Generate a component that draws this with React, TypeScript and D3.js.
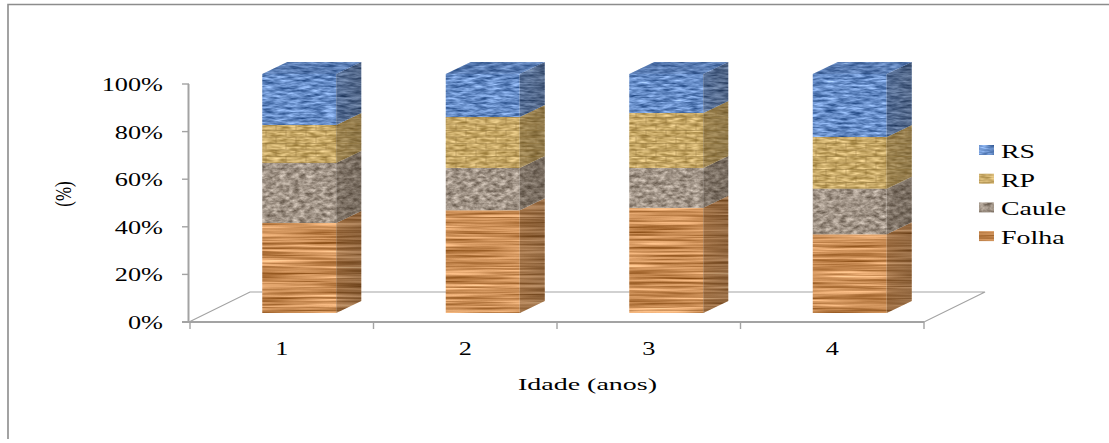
import React from "react";
import * as d3 from "d3";

// Biomass share per compartment (%), stacked from the bottom up
const ages = ["1", "2", "3", "4"];
const folha = [37.7, 43, 44, 33];
const caule = [25.1, 17.7, 16.7, 19];
const rp = [15.9, 21.3, 23, 21.6];
const rs = [21.3, 18, 16.3, 26.4];
const seriesKeys = ["Folha", "Caule", "RP", "RS"];
const yTicks = [0, 20, 40, 60, 80, 100];
const legendOrder = ["RS", "RP", "Caule", "Folha"];

const width = 1109;
const height = 443;
const depthX = 25;
const depthY = 12;
const barWidth = 74;
const serif = "'Liberation Serif', serif";
const axisGray = "#a3a3a3";

const rows = ages.map((age, i) => ({
  age,
  Folha: folha[i],
  Caule: caule[i],
  RP: rp[i],
  RS: rs[i],
}));
const stacked = d3.stack<any>().keys(seriesKeys)(rows);

const xBand = d3.scaleBand().domain(ages).range([190, 924]);
const yAxis = d3.scaleLinear().domain([0, 100]).range([322, 84]);
const yBar = d3.scaleLinear().domain([0, 100]).range([313, 74]);
const barX = (age: string) => xBand(age)! + xBand.bandwidth() / 2 - 19.5;

// Noise settings for each material texture: frequency, light colour, contrast
const textures: Record<string, { freq: string; octaves: number; base: number[]; gain: number; seed: number }> = {
  Folha: { freq: "0.01 0.4", octaves: 3, base: [0.8, 0.56, 0.34], gain: 0.75, seed: 4 },
  Caule: { freq: "0.15 0.28", octaves: 3, base: [0.63, 0.58, 0.53], gain: 0.65, seed: 9 },
  RP: { freq: "0.1 0.4", octaves: 2, base: [0.79, 0.67, 0.41], gain: 0.55, seed: 12 },
  RS: { freq: "0.08 0.4", octaves: 3, base: [0.4, 0.55, 0.78], gain: 0.75, seed: 21 },
};

function matrixFor(base: number[], gain: number) {
  const off = (c: number) => (c - 0.5 * gain).toFixed(3);
  return [
    `${gain} 0 0 0 ${off(base[0])}`,
    `${gain} 0 0 0 ${off(base[1])}`,
    `${gain} 0 0 0 ${off(base[2])}`,
    "0 0 0 0 1",
  ].join(" ");
}

function Stretched({ x, y, sx = 1.46, size = 18, anchor = "start", children }: any) {
  return (
    <text
      transform={`translate(${x},${y}) scale(${sx},1)`}
      fontFamily={serif}
      fontSize={size}
      textAnchor={anchor}
      fill="#000"
    >
      {children}
    </text>
  );
}

export default function App() {
  const floorFront = yAxis(0);
  const floorBack = floorFront - 30;
  return (
    <svg
      width={width}
      height={height}
      viewBox={`0 0 ${width} ${height}`}
      style={{ position: "absolute", left: 0, top: 0, background: "#fff" }}
    >
      <defs>
        {seriesKeys.map((k) => {
          const t = textures[k];
          return (
            <filter
              key={k}
              id={`tex-${k}`}
              x="-5%"
              y="-5%"
              width="110%"
              height="110%"
              colorInterpolationFilters="sRGB"
            >
              <feTurbulence type="fractalNoise" baseFrequency={t.freq} numOctaves={t.octaves} seed={t.seed} />
              <feColorMatrix type="matrix" values={matrixFor(t.base, t.gain)} />
              <feGaussianBlur stdDeviation="0.6" />
              <feComposite in2="SourceGraphic" operator="in" />
            </filter>
          );
        })}
        <pattern id="bricks" width="20" height="13" patternUnits="userSpaceOnUse">
          <path
            d="M0 0.5H20M0 7H20M6 0V6.5M16 7V13"
            stroke="#8a6f35"
            strokeWidth="1"
            fill="none"
            opacity="0.4"
          />
        </pattern>
        <linearGradient id="sideShade" x1="0" x2="1" y1="0" y2="0">
          <stop offset="0" stopColor="#2a2015" stopOpacity="0.28" />
          <stop offset="1" stopColor="#2a2015" stopOpacity="0.36" />
        </linearGradient>
      </defs>

      {/* Outer chart frame: only the top and left edges are visible */}
      <path d="M8 439V4.5H1109" fill="none" stroke="#8c8c8c" strokeWidth="1.6" />

      {/* Floor of the 3D plot */}
      <path
        d={`M${xBand.range()[0] - 1} ${floorFront}L${xBand.range()[0] + 60} ${floorBack}H${xBand.range()[1] + 61}L${xBand.range()[1]} ${floorFront}Z`}
        fill="#fff"
        stroke={axisGray}
        strokeWidth="1.2"
      />

      {/* Value axis */}
      <line x1={188.5} x2={188.5} y1={yAxis(100)} y2={yAxis(0)} stroke={axisGray} strokeWidth="2" />
      {yTicks.map((t) => (
        <g key={t}>
          <line x1={182} x2={189} y1={yAxis(t)} y2={yAxis(t)} stroke={axisGray} strokeWidth="1.4" />
          <Stretched x={163} y={yAxis(t) + 7} anchor="end">{`${t}%`}</Stretched>
        </g>
      ))}

      {/* Category axis */}
      <line x1={182} x2={xBand.range()[1]} y1={floorFront} y2={floorFront} stroke={axisGray} strokeWidth="2" />
      {[...ages.map((a) => xBand(a)!), xBand.range()[1]].map((x) => (
        <line key={x} x1={x} x2={x} y1={floorFront} y2={floorFront + 7} stroke={axisGray} strokeWidth="1.4" />
      ))}
      {ages.map((a) => (
        <Stretched key={a} x={xBand(a)! + xBand.bandwidth() / 2} y={355} anchor="middle">
          {a}
        </Stretched>
      ))}

      {/* Stacked 3D columns */}
      {ages.map((age, i) =>
        stacked.map((layer) => {
          const key = layer.key;
          const x0 = barX(age);
          const x1 = x0 + barWidth;
          const yLow = yBar(layer[i][0]);
          const yHigh = yBar(layer[i][1]);
          const front = `${x0},${yLow} ${x1},${yLow} ${x1},${yHigh} ${x0},${yHigh}`;
          const side = `${x1},${yLow} ${x1 + depthX},${yLow - depthY} ${x1 + depthX},${yHigh - depthY} ${x1},${yHigh}`;
          const top = `${x0},${yHigh} ${x1},${yHigh} ${x1 + depthX},${yHigh - depthY} ${x0 + depthX},${yHigh - depthY}`;
          return (
            <g key={`${age}-${key}`}>
              <polygon points={front} fill="#fff" filter={`url(#tex-${key})`} />
              <polygon points={side} fill="#fff" filter={`url(#tex-${key})`} />
              <polygon points={side} fill="url(#sideShade)" />
              {key === "RP" && <polygon points={front} fill="url(#bricks)" />}
              {key === "RP" && <polygon points={side} fill="url(#bricks)" />}
              {key === "RS" && (
                <>
                  <polygon points={top} fill="#fff" filter={`url(#tex-${key})`} />
                  <polygon points={top} fill="#2a3f6b" opacity="0.22" />
                </>
              )}
            </g>
          );
        })
      )}

      <Stretched x={518} y={390} sx={1.6} size={17.5}>Idade (anos)</Stretched>
      <text
        transform="translate(71,194) rotate(-90) scale(1,1.3)"
        fontFamily={serif}
        fontSize={17}
        textAnchor="middle"
      >
        (%)
      </text>

      {/* Legend */}
      {legendOrder.map((k, i) => {
        const swatchY = 145 + i * 28.7;
        return (
          <g key={k}>
            <rect x={979} y={swatchY} width={15} height={10} fill="#fff" filter={`url(#tex-${k})`} />
            <Stretched x={1001} y={158 + i * 28.7} sx={1.55} size={18}>
              {k}
            </Stretched>
          </g>
        );
      })}
    </svg>
  );
}
